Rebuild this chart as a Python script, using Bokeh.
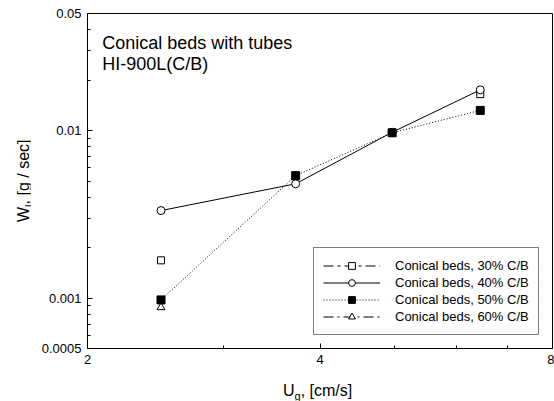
from bokeh.plotting import figure
from bokeh.models import (Range1d, FixedTicker, CustomJSTickFormatter, Label,
                          Legend, LegendItem, Div)
from bokeh.layouts import row, column
from bokeh.embed import file_html
from bokeh.resources import INLINE

# ---- data ----
x30 = [2.49, 6.45]
y30 = [0.00168, 0.0165]
x40 = [2.49, 3.72, 4.96, 6.45]
y40 = [0.00333, 0.00481, 0.00977, 0.0175]
x50 = [2.49, 3.72, 4.96, 6.45]
y50 = [0.000975, 0.00538, 0.0097, 0.0132]
x60 = [2.49]
y60 = [0.00088]

x_major = [2, 4, 8]
x_minor = [3, 5, 6, 7]
y_major = [0.0005, 0.001, 0.01, 0.05]
y_minor = [0.0006, 0.0007, 0.0008, 0.0009,
           0.002, 0.003, 0.004, 0.005, 0.006, 0.007, 0.008, 0.009,
           0.02, 0.03, 0.04]
legend_labels = ["Conical beds, 30% C/B", "Conical beds, 40% C/B",
                 "Conical beds, 50% C/B", "Conical beds, 60% C/B"]

FONT = "Liberation Sans"

p = figure(width=524, height=380, x_axis_type="log", y_axis_type="log",
           x_range=Range1d(2, 8), y_range=Range1d(0.0005, 0.05),
           output_backend="svg", toolbar_location=None,
           min_border_left=57, min_border_right=2, min_border_top=13,
           min_border_bottom=32)
p.grid.visible = False
p.outline_line_color = "black"
p.outline_line_width = 1
p.background_fill_color = "white"
p.border_fill_color = "white"

p.xaxis.ticker = FixedTicker(ticks=x_major, minor_ticks=x_minor)
p.yaxis.ticker = FixedTicker(ticks=y_major, minor_ticks=y_minor)
p.xaxis.formatter = CustomJSTickFormatter(code="return String(tick)")
p.yaxis.formatter = CustomJSTickFormatter(code="return String(tick)")
for ax in (p.xaxis, p.yaxis):
    ax.axis_line_color = "black"
    ax.major_tick_line_color = "black"
    ax.minor_tick_line_color = "black"
    ax.major_tick_in = 5
    ax.major_tick_out = 0
    ax.minor_tick_in = 3
    ax.minor_tick_out = 0
    ax.major_label_text_font = FONT
    ax.major_label_text_font_size = "13px"
    ax.major_label_text_color = "black"
p.xaxis.major_label_standoff = 6
p.yaxis.major_label_standoff = 6

# ---- series ----
r30m = p.scatter(x30, y30, marker="square", size=7, line_color="black",
                 fill_color="white", line_width=1)
r30l = p.line(x=x30[:1], y=y30[:1], line_color="black", line_dash="10 4 3 4",
              line_width=1)

r40l = p.line(x40, y40, line_color="black", line_width=1)
r40m = p.scatter(x40, y40, marker="circle", size=8, line_color="black",
                 fill_color="white", line_width=1)

r60m = p.scatter(x60, y60, marker="triangle", size=8, line_color="black",
                 fill_color="white", line_width=1)
r60l = p.line(x=x60, y=y60, line_color="black", line_dash="10 4 2 4",
              line_width=1)

r50l = p.line(x50, y50, line_color="black", line_dash="1 2", line_width=1)
r50m = p.scatter(x50, y50, marker="square", size=8, line_color="black",
                 fill_color="black", line_width=1)

legend = Legend(items=[
    LegendItem(label=legend_labels[0], renderers=[r30l, r30m]),
    LegendItem(label=legend_labels[1], renderers=[r40l, r40m]),
    LegendItem(label=legend_labels[2], renderers=[r50l, r50m]),
    LegendItem(label=legend_labels[3], renderers=[r60l, r60m]),
], location=(226, 13))
legend.border_line_color = "black"
legend.border_line_width = 1
legend.background_fill_color = "white"
legend.background_fill_alpha = 1
legend.label_text_font = FONT
legend.label_text_font_size = "13px"
legend.label_text_color = "black"
legend.glyph_width = 57
legend.glyph_height = 17
legend.label_height = 15
legend.label_standoff = 15
legend.spacing = -3
legend.padding = 9
legend.margin = 0
p.add_layout(legend, "center")


def lab(x, y, t, size):
    p.add_layout(Label(x=x, y=y, x_units="screen", y_units="screen", text=t,
                       text_font=FONT, text_font_size=size,
                       text_color="black", text_baseline="alphabetic"))


# ---- annotation text ----
lab(14.7, 305.7, "Conical beds with tubes", "18px")
lab(14.7, 284.7, "HI-900L(C/B)", "18px")

# ---- axis titles (HTML, with subscripts) ----
font_css = ("font-family:'Liberation Sans',Arial,sans-serif;font-size:16px;"
            "line-height:18px;color:black;white-space:nowrap;")
ylab_html = (
    '<div style="position:relative;width:30px;height:401px;">'
    '<span style="position:absolute;left:14.5px;top:222px;'
    'transform:rotate(-90deg);transform-origin:0 0;' + font_css + '">'
    'W<sub style="font-size:11px">l</sub>, [g / sec]</span></div>')
xlab_html = (
    '<div style="position:relative;width:524px;height:21px;">'
    '<span style="position:absolute;left:253px;top:2px;' + font_css + '">'
    'U<sub style="font-size:11px">g</sub>, [cm/s]</span></div>')

ydiv = Div(text=ylab_html, width=30, height=401, margin=0)
xdiv = Div(text=xlab_html, width=524, height=21, margin=0)

layout = row(ydiv, column(p, xdiv, spacing=0), spacing=0)

open("out.html", "w").write(file_html(layout, INLINE))
